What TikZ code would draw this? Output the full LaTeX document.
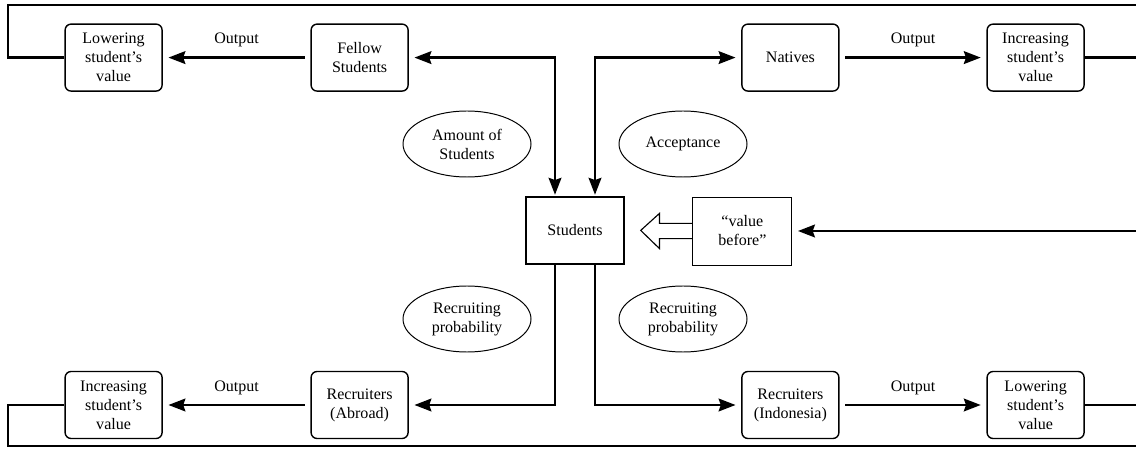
\documentclass[tikz,border=0pt]{standalone}
\usepackage{fontspec}
\setmainfont{Liberation Serif}
\usetikzlibrary{arrows.meta,calc,shapes.geometric}
\tikzset{>={Stealth[length=12pt,width=9pt,inset=1.5pt]},every node/.style={font=\fontsize{11.4}{13.5}\selectfont},
flow/.style={line width=1.9pt,->},rim/.style={line width=1.9pt},
blk/.style={draw,line width=1pt,rounded corners=.15cm,minimum width=2.425cm,minimum height=1.675cm,align=center,inner sep=1pt},
bubble/.style={draw,ellipse,line width=.7pt,minimum width=3.2cm,minimum height=1.65cm,align=center,inner sep=0pt}}
\begin{document}
\begin{tikzpicture}
\useasboundingbox (0,0) rectangle (28.4,11.4);
\coordinate (tl) at (0.2,11.275);\coordinate (tr) at (28.4,11.275);\coordinate (bl) at (0.2,0.25);\coordinate (br) at (28.4,0.25);
% top row
\node[blk] (low1) at (2.84,9.96){Lowering\\student’s\\value};\node[blk] (fel) at (8.99,9.96){Fellow\\Students};
\node[blk] (nat) at (19.76,9.96){Natives};\node[blk] (inc1) at (25.89,9.96){Increasing\\student’s\\value};
% bottom row
\node[blk] (inc2) at (2.84,1.275){Increasing\\student’s\\value};\node[blk] (rab) at (8.99,1.275){Recruiters\\(Abroad)};
\node[blk] (rin) at (19.76,1.275){Recruiters\\(Indonesia)};\node[blk] (low2) at (25.89,1.275){Lowering\\student’s\\value};
% centre
\node[blk,sharp corners,minimum width=2.45cm] (stu) at (14.375,5.64){Students};
\node[draw,line width=.6pt,minimum width=2.475cm,minimum height=1.7cm,align=center] (vb) at (18.56,5.625){“value\\before”};
\node[bubble] (amt) at (11.675,7.8){Amount of\\Students};\node[bubble] (acc) at (17.075,7.8){Acceptance};
\node[bubble] (rp1) at (11.675,3.425){Recruiting\\probability};\node[bubble] (rp2) at (17.075,3.425){Recruiting\\probability};
\draw[line width=.8pt] ($(vb.west)+(0,.19)$) -- ++(-.825,0) -- ++(0,.25) -- ($(stu.east)+(.4,0)$) -- ($(vb.west)+(-.825,-.44)$) -- ++(0,.25) -- ($(vb.west)+(0,-.19)$);
% outputs
\draw[flow,shorten <=4pt,shorten >=4pt] (fel) -- node[above=3pt]{Output} (low1);\draw[flow,shorten <=4pt,shorten >=4pt] (nat) -- node[above=3pt]{Output} (inc1);
\draw[flow,shorten <=4pt,shorten >=4pt] (rab) -- node[above=3pt]{Output} (inc2);\draw[flow,shorten <=4pt,shorten >=4pt] (rin) -- node[above=3pt]{Output} (low2);
% links to students
\draw[flow,<->,shorten <=4pt,shorten >=1pt] (fel.east) -| ($(stu.north)+(-.5,0)$);\draw[flow,<->,shorten <=4pt,shorten >=1pt] (nat.west) -| ($(stu.north)+(.5,0)$);
\draw[flow,shorten >=4pt] ($(stu.south)+(-.5,0)$) |- (rab.east);\draw[flow,shorten >=4pt] ($(stu.south)+(.5,0)$) |- (rin.west);
% frame
\draw[rim] (low1.west) -| (tl) -- (tr);\draw[rim] (inc1.east) -- (inc1.east -| tr);
\draw[rim] (inc2.west) -| (bl) -- (br);\draw[rim] (low2.east) -- (low2.east -| br);
\draw[flow,shorten >=4pt] (vb.east -| tr) -- (vb.east);
\end{tikzpicture}
\end{document}
